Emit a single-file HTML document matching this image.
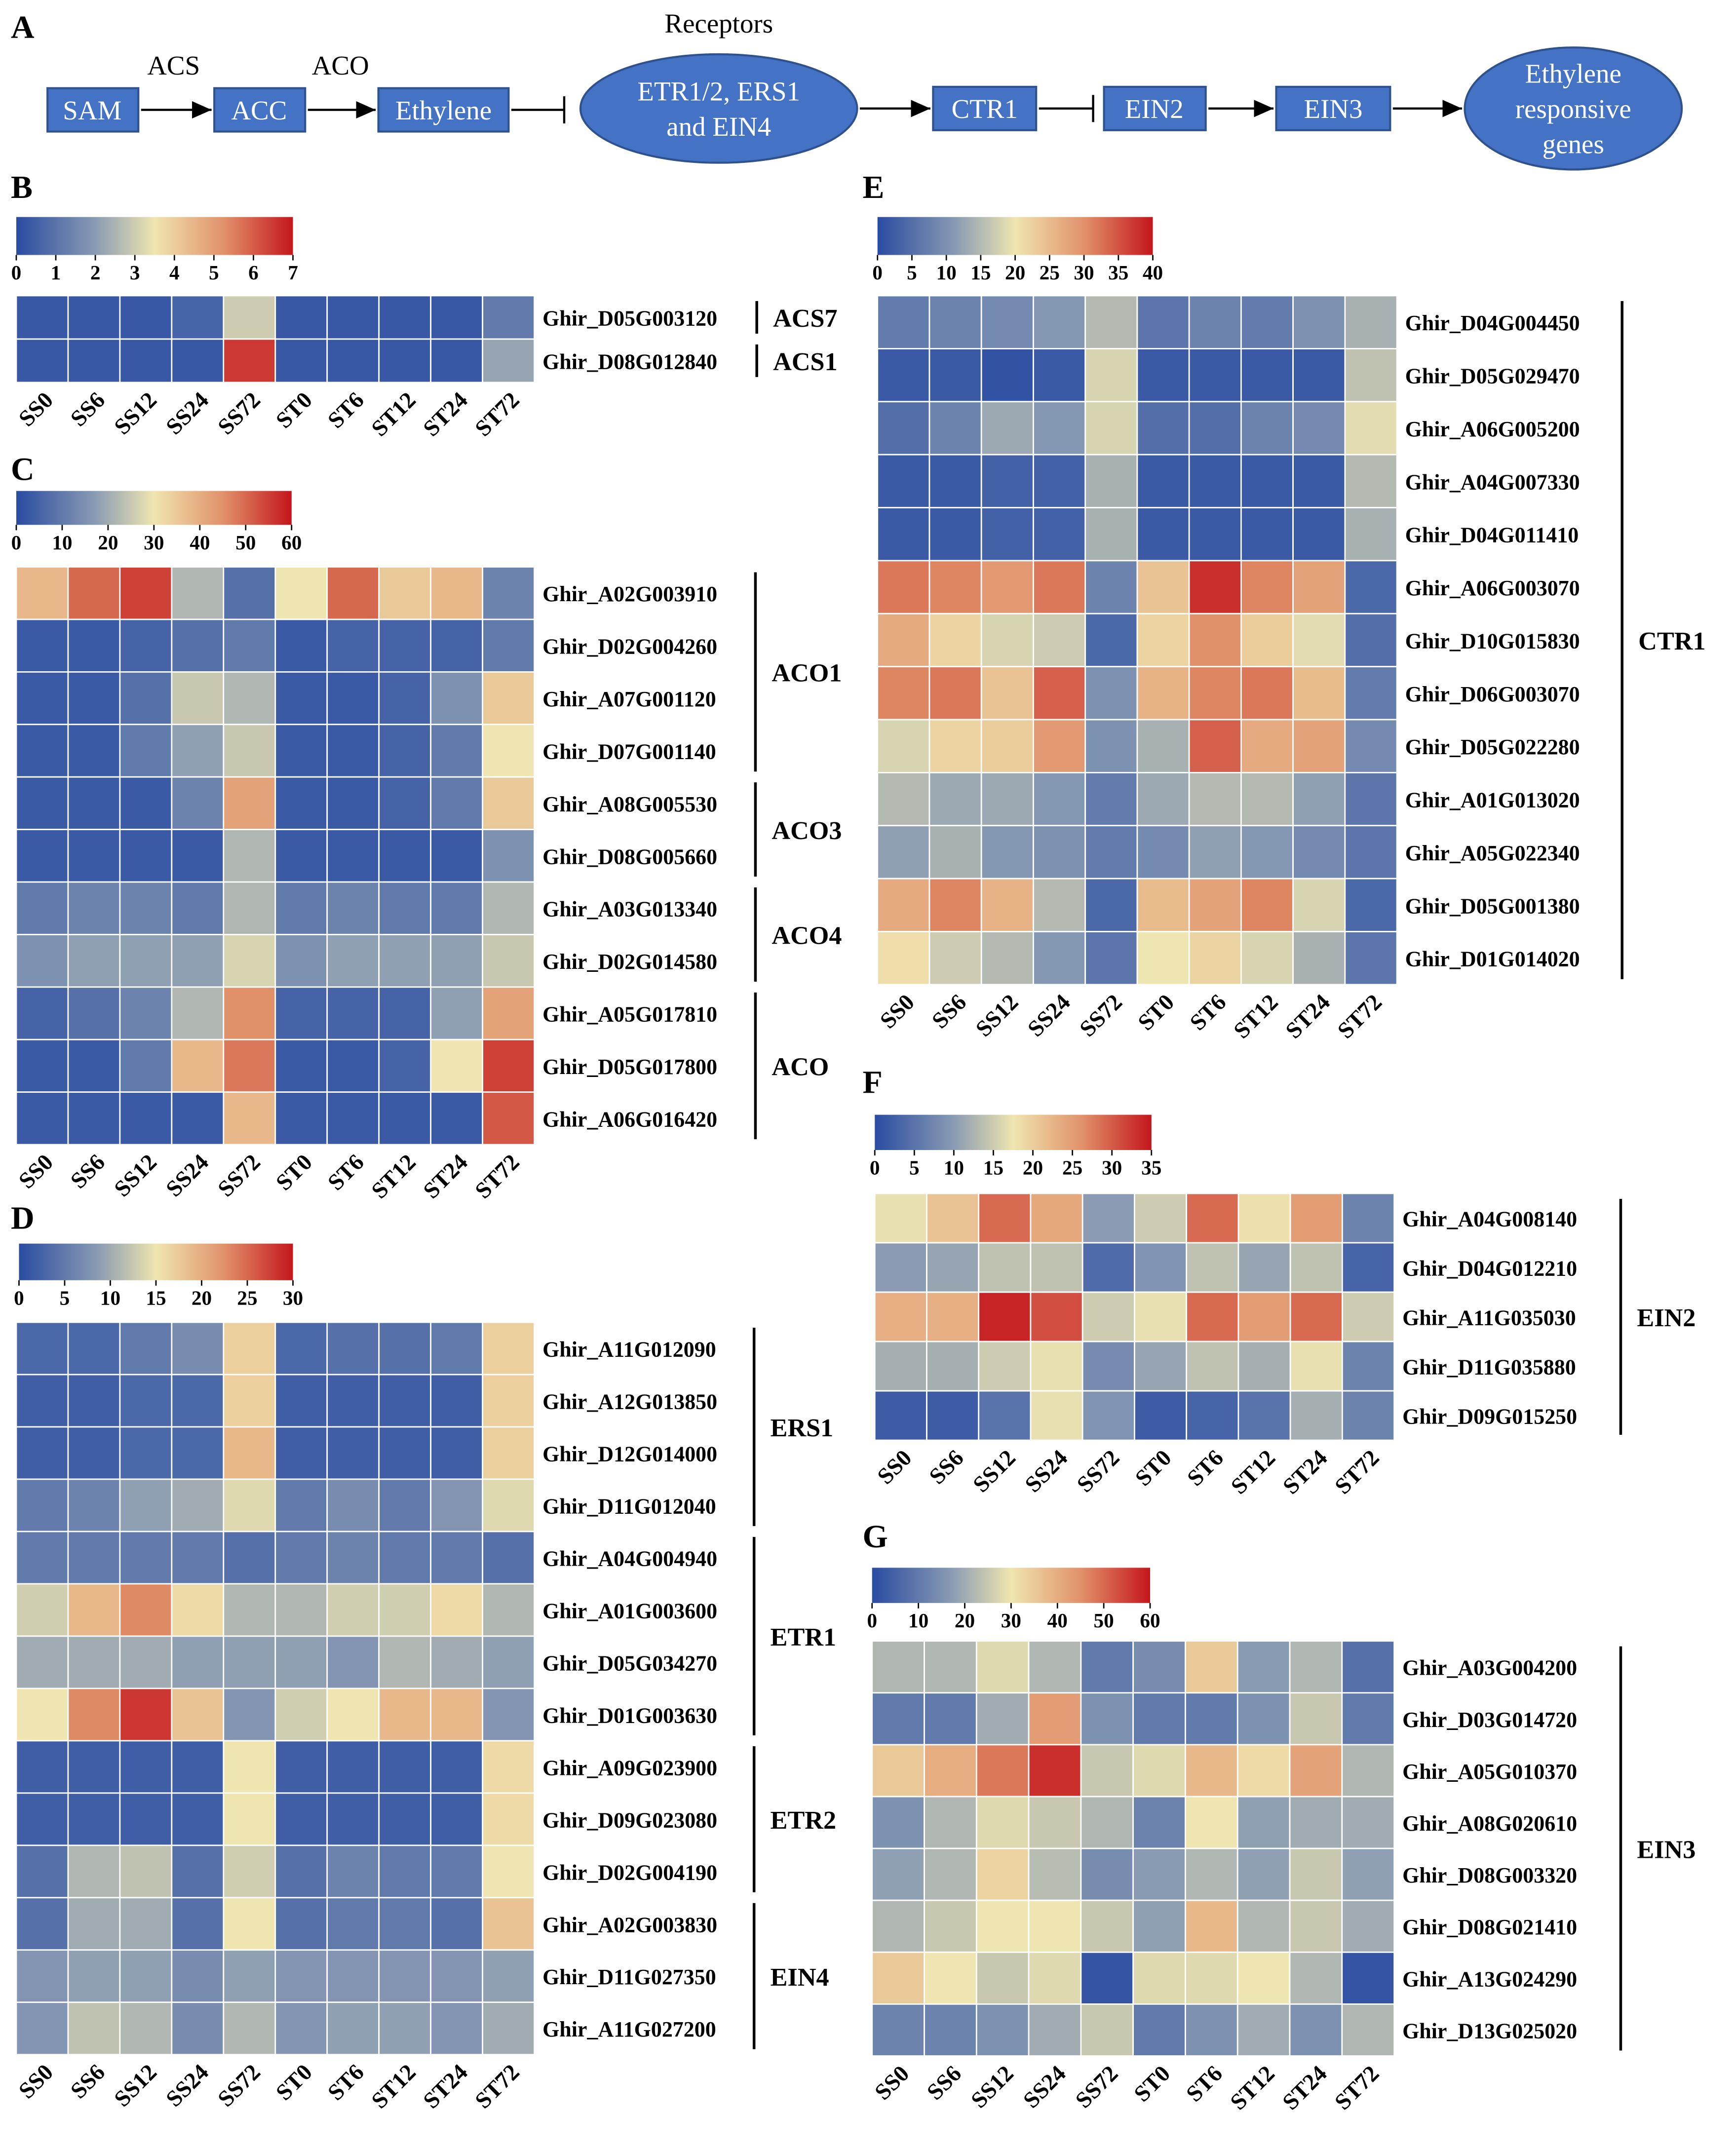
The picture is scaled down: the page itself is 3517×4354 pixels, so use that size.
<!DOCTYPE html>
<html><head><meta charset="utf-8"><style>
html,body{margin:0;padding:0;background:#fff}
svg{display:block}
text{font-family:"Liberation Serif",serif}
.bold{font-weight:bold}
</style></head><body>
<svg id="fig" xmlns="http://www.w3.org/2000/svg" width="3517" height="4354" viewBox="0 0 1280 1584.6">
<defs>
<linearGradient id="cmap" x1="0" x2="1" y1="0" y2="0">
<stop offset="0" stop-color="#2a4ca2"/><stop offset="0.28" stop-color="#8799b3"/><stop offset="0.5" stop-color="#efe5b0"/><stop offset="0.75" stop-color="#e1916a"/><stop offset="1" stop-color="#c4161c"/>
</linearGradient>
<marker id="arr" markerWidth="10" markerHeight="10" refX="9" refY="5" orient="auto"><path d="M0,1 L9,5 L0,9 z" fill="#000"/></marker>
</defs>
<g id="panelA" font-size="20">
<text x="8" y="28" class="bold" font-size="24">A</text>
<text x="128" y="55" text-anchor="middle">ACS</text>
<text x="251" y="55" text-anchor="middle">ACO</text>
<text x="530" y="24" text-anchor="middle">Receptors</text>
<g fill="#4472c4" stroke="#2f528f" stroke-width="1.5">
<rect x="35" y="65" width="67" height="32"/>
<rect x="158" y="65" width="67" height="32"/>
<rect x="279" y="65" width="96" height="32"/>
<ellipse cx="530" cy="80" rx="102" ry="40"/>
<rect x="688" y="64" width="76" height="32"/>
<rect x="814" y="64" width="75" height="32"/>
<rect x="941" y="64" width="84" height="32"/>
<ellipse cx="1160" cy="80" rx="80" ry="45"/>
</g>
<g fill="#fff" text-anchor="middle">
<text x="68" y="88">SAM</text><text x="191" y="88">ACC</text><text x="327" y="88">Ethylene</text>
<text x="530" y="74">ETR1/2, ERS1</text><text x="530" y="100">and EIN4</text>
<text x="726" y="87">CTR1</text><text x="851" y="87">EIN2</text><text x="983" y="87">EIN3</text>
<text x="1160" y="61">Ethylene</text><text x="1160" y="87">responsive</text><text x="1160" y="113">genes</text>
</g>
<g stroke="#000" stroke-width="1.6" fill="none">
<line x1="104" y1="81" x2="156" y2="81" marker-end="url(#arr)"/>
<line x1="227" y1="81" x2="277" y2="81" marker-end="url(#arr)"/>
<line x1="377" y1="81" x2="416" y2="81"/><line x1="416" y1="71" x2="416" y2="91"/>
<line x1="634" y1="80" x2="686" y2="80" marker-end="url(#arr)"/>
<line x1="766" y1="80" x2="806" y2="80"/><line x1="806" y1="70" x2="806" y2="90"/>
<line x1="891" y1="80" x2="939" y2="80" marker-end="url(#arr)"/>
<line x1="1027" y1="80" x2="1078" y2="80" marker-end="url(#arr)"/>
</g>
</g>
<g id="heatmaps"></g>
</svg>
<script>
const samples = ["SS0","SS6","SS12","SS24","SS72","ST0","ST6","ST12","ST24","ST72"];
const genesB = ["Ghir_D05G003120","Ghir_D08G012840"];
const valuesB = [[0.3,0.3,0.3,0.6,3,0.3,0.3,0.3,0.3,1.2],[0.3,0.3,0.3,0.3,6.5,0.3,0.3,0.3,0.3,2.2]];
const ticksB = [0,1,2,3,4,5,6,7];
const genesC = ["Ghir_A02G003910","Ghir_D02G004260","Ghir_A07G001120","Ghir_D07G001140","Ghir_A08G005530","Ghir_D08G005660","Ghir_A03G013340","Ghir_D02G014580","Ghir_A05G017810","Ghir_D05G017800","Ghir_A06G016420"];
const valuesC = [[38,50,55,22,8,30,50,35,38,12],[3,3,5,8,10,3,5,5,5,10],[3,3,8,25,22,3,3,5,15,35],[3,3,10,18,25,3,3,5,10,30],[3,3,3,12,42,3,3,5,10,35],[3,3,3,3,22,3,3,3,3,15],[10,12,12,10,22,10,12,10,10,22],[15,18,18,18,27,15,18,18,18,25],[5,8,12,22,45,5,5,5,18,42],[3,3,10,38,48,3,3,5,30,55],[3,3,3,3,38,3,3,3,3,52]];
const ticksC = [0,10,20,30,40,50,60];
const genesD = ["Ghir_A11G012090","Ghir_A12G013850","Ghir_D12G014000","Ghir_D11G012040","Ghir_A04G004940","Ghir_A01G003600","Ghir_D05G034270","Ghir_D01G003630","Ghir_A09G023900","Ghir_D09G023080","Ghir_D02G004190","Ghir_A02G003830","Ghir_D11G027350","Ghir_A11G027200"];
const valuesD = [[3,3,5,7,17,3,4,4,5,17],[2,2,3,3,17,2,2,2,2,17],[2,2,3,3,19,2,2,2,2,17],[5,6,9,10,14,5,7,5,8,14],[5,5,5,5,4,5,6,5,5,4],[13,19,23,16,11,11,13,13,16,11],[10,10,10,9,9,9,8,11,10,9],[15,23,28,18,8,13,15,19,19,8],[2,2,2,2,15,2,2,2,2,16],[2,2,2,2,15,2,2,2,2,16],[4,11,12,4,13,4,6,5,5,15],[4,10,10,4,15,4,5,5,4,18],[8,9,9,7,9,8,8,8,8,9],[8,12,11,7,11,8,9,9,8,10]];
const ticksD = [0,5,10,15,20,25,30];
const genesE = ["Ghir_D04G004450","Ghir_D05G029470","Ghir_A06G005200","Ghir_A04G007330","Ghir_D04G011410","Ghir_A06G003070","Ghir_D10G015830","Ghir_D06G003070","Ghir_D05G022280","Ghir_A01G013020","Ghir_A05G022340","Ghir_D05G001380","Ghir_D01G014020"];
const valuesE = [[7,8,9,11,15,6,8,7,10,14],[2,2,1,2,18,2,2,2,2,16],[5,8,13,11,18,5,5,8,9,19],[2,2,3,3,14,2,2,2,2,15],[2,2,3,3,14,2,2,2,2,14],[32,31,29,32,8,24,38,31,28,4],[27,22,18,17,4,22,30,23,19,5],[31,32,24,34,10,26,31,32,25,7],[18,22,23,29,10,14,34,27,28,9],[15,13,13,11,7,13,15,15,12,6],[12,14,11,10,7,9,12,11,9,6],[27,31,26,15,4,25,28,31,18,4],[21,17,15,11,6,20,22,18,14,6]];
const ticksE = [0,5,10,15,20,25,30,35,40];
const genesF = ["Ghir_A04G008140","Ghir_D04G012210","Ghir_A11G035030","Ghir_D11G035880","Ghir_D09G015250"];
const valuesF = [[17,21,29,24,10,15,29,18,25,7],[10,11,14,14,4,9,14,11,14,3],[23,23,34,31,15,17,29,25,29,15],[12,12,15,17,8,11,14,12,17,7],[2,2,5,17,9,2,3,5,12,7]];
const ticksF = [0,5,10,15,20,25,30,35];
const genesG = ["Ghir_A03G004200","Ghir_D03G014720","Ghir_A05G010370","Ghir_A08G020610","Ghir_D08G003320","Ghir_D08G021410","Ghir_A13G024290","Ghir_D13G025020"];
const valuesG = [[22,22,28,22,10,14,35,17,22,8],[10,10,20,43,15,10,10,15,25,10],[35,40,48,57,25,28,38,32,42,22],[15,22,28,25,22,12,30,18,20,20],[18,22,33,23,14,17,22,18,25,18],[22,25,30,30,25,18,38,22,25,20],[35,30,25,28,2,28,28,30,22,2],[12,12,15,20,25,10,15,20,15,22]];
const ticksG = [0,10,20,30,40,50,60];

const NS="http://www.w3.org/2000/svg";
const root=document.getElementById('heatmaps');
const stops=[[0,[42,76,162]],[0.28,[135,153,179]],[0.5,[239,229,176]],[0.75,[225,145,106]],[1,[196,22,28]]];
function cmap(t){t=Math.max(0,Math.min(1,t));for(let i=1;i<stops.length;i++){if(t<=stops[i][0]){const a=stops[i-1],b=stops[i];const f=(t-a[0])/(b[0]-a[0]);const c=a[1].map((v,k)=>Math.round(v+(b[1][k]-v)*f));return `rgb(${c[0]},${c[1]},${c[2]})`;}}return 'rgb(196,22,28)';}
function mk(tag,attrs,parent){const e=document.createElementNS(NS,tag);for(const k in attrs)e.setAttribute(k,attrs[k]);(parent||root).appendChild(e);return e;}
function txt(x,y,s,attrs,parent){const e=mk('text',Object.assign({x:x,y:y},attrs||{}),parent);e.textContent=s;return e;}

function panel(cfg){
  const g=mk('g',{});
  
  
  const pl=txt(cfg.lx,cfg.ly,cfg.letter,{'font-size':24,'font-weight':'bold'},g);
  
  
  const cb=mk('rect',{x:cfg.cbx,y:cfg.cby,width:cfg.cbw,height:cfg.cbh,fill:'url(#cmap)'},g);
  
  
  const maxV=cfg.ticks[cfg.ticks.length-1];
  cfg.ticks.forEach(t=>{const x=cfg.cbx+cfg.cbw*t/maxV;
    mk('line',{x1:x,x2:x,y1:cfg.cby+cfg.cbh,y2:cfg.cby+cfg.cbh+4,stroke:'#000','stroke-width':1},g);
    const tl=txt(x,cfg.cby+cfg.cbh+18,String(t),{'font-size':15,'font-weight':'bold','text-anchor':'middle'},g);
    
    });
  const nr=cfg.genes.length, cw=(cfg.x1-cfg.x0)/10, rh=(cfg.y1-cfg.y0)/nr;
  cfg.values.forEach((row,r)=>row.forEach((v,c)=>{
    const cell=mk('rect',{x:cfg.x0+c*cw,y:cfg.y0+r*rh,width:cw,height:rh,fill:cmap(v/maxV),stroke:'#fff','stroke-width':1},g);
    
    
  }));
  cfg.genes.forEach((gn,r)=>{const t=txt(cfg.x1+6,cfg.y0+(r+0.5)*rh+6,gn,{'font-size':16,'font-weight':'bold'},g);
    
    });
  samples.forEach((s,c)=>{const x=cfg.x0+(c+0.5)*cw+9, y=cfg.y1+14;
    const t=txt(x,y,s,{'font-size':17,'font-weight':'bold','text-anchor':'end',transform:`rotate(-45 ${x} ${y})`},g);
    
    });
  cfg.groups.forEach(gr=>{
    const ya=cfg.y0+gr[0]*rh+4, yb=cfg.y0+gr[1]*rh-4;
    mk('line',{x1:cfg.bx,x2:cfg.bx,y1:ya,y2:yb,stroke:'#000','stroke-width':2},g);
    const t=txt(cfg.bx+12,(ya+yb)/2+7,gr[2],{'font-size':19,'font-weight':'bold'},g);
    
    
  });
}
panel({letter:'B',lx:8,ly:146,cbx:12,cby:160,cbw:204,cbh:28,ticks:ticksB,genes:genesB,values:valuesB,x0:12,x1:394,y0:218,y1:282,bx:558,groups:[[0,1,'ACS7'],[1,2,'ACS1']]});
panel({letter:'C',lx:8,ly:354,cbx:12,cby:362,cbw:203,cbh:25,ticks:ticksC,genes:genesC,values:valuesC,x0:12,x1:394,y0:418,y1:844,bx:557,groups:[[0,4,'ACO1'],[4,6,'ACO3'],[6,8,'ACO4'],[8,11,'ACO']]});
panel({letter:'D',lx:8,ly:906,cbx:14,cby:917,cbw:202,cbh:27,ticks:ticksD,genes:genesD,values:valuesD,x0:12,x1:394,y0:975,y1:1515,bx:556,groups:[[0,4,'ERS1'],[4,8,'ETR1'],[8,11,'ETR2'],[11,14,'EIN4']]});
panel({letter:'E',lx:636,ly:146,cbx:647,cby:160,cbw:203,cbh:28,ticks:ticksE,genes:genesE,values:valuesE,x0:647,x1:1030,y0:218,y1:726,bx:1196,groups:[[0,13,'CTR1']]});
panel({letter:'F',lx:636,ly:806,cbx:645,cby:822,cbw:204,cbh:26,ticks:ticksF,genes:genesF,values:valuesF,x0:645,x1:1028,y0:880,y1:1062,bx:1195,groups:[[0,5,'EIN2']]});
panel({letter:'G',lx:636,ly:1141,cbx:643,cby:1156,cbw:205,cbh:26,ticks:ticksG,genes:genesG,values:valuesG,x0:643,x1:1028,y0:1210,y1:1516,bx:1195,groups:[[0,8,'EIN3']]});
</script>
</body></html>
